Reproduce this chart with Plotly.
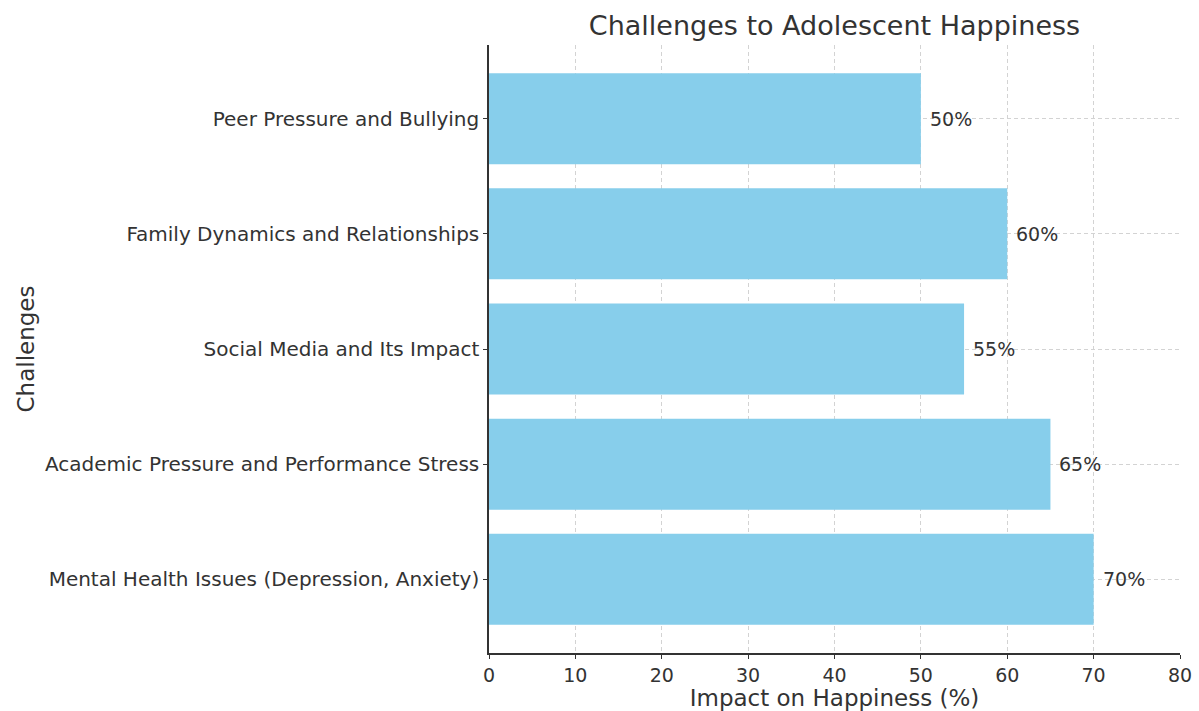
import plotly.graph_objects as go

categories = [
    "Mental Health Issues (Depression, Anxiety)",
    "Academic Pressure and Performance Stress",
    "Social Media and Its Impact",
    "Family Dynamics and Relationships",
    "Peer Pressure and Bullying",
]
values = [70, 65, 55, 60, 50]
labels = [f"{v}%" for v in values]

FONT = "DejaVu Sans"
TXT = "#333333"
fig = go.Figure()
fig.add_trace(go.Bar(
    y=categories, x=values, orientation="h",
    marker=dict(color="#87CEEB", line=dict(width=0)),
    width=0.79,
))
for c, v, t in zip(categories, values, labels):
    fig.add_annotation(x=v + 0.8, y=c, text=t, showarrow=False,
                       xanchor="left", yanchor="middle",
                       font=dict(family=FONT, size=19, color=TXT))

grid = dict(showgrid=True, gridcolor="#d3d3d3", griddash="4px,3px", gridwidth=1)
fig.update_layout(
    width=1199, height=711,
    margin=dict(l=489, r=19, t=45, b=58),
    paper_bgcolor="white", plot_bgcolor="white",
    showlegend=False,
    font=dict(family=FONT, color=TXT),
    title=dict(text="Challenges to Adolescent Happiness", x=(489 + 1180) / 2 / 1199,
               xanchor="center", y=1 - 26 / 711, yanchor="middle",
               font=dict(family=FONT, size=27, color=TXT)),
    xaxis=dict(range=[0, 80], tickmode="linear", tick0=0, dtick=10,
               showline=True, linecolor=TXT, linewidth=1.5,
               ticks="outside", ticklen=4, tickcolor=TXT,
               zeroline=False, automargin=False, **grid,
               tickfont=dict(family=FONT, size=19, color=TXT),
               title=dict(text="Impact on Happiness (%)", standoff=0,
                          font=dict(family=FONT, size=23, color=TXT))),
    yaxis=dict(range=[-0.64, 4.64], categoryorder="array", categoryarray=categories,
               showline=True, linecolor=TXT, linewidth=1.5,
               ticks="outside", ticklen=4, tickcolor=TXT,
               zeroline=False, automargin=False, **grid,
               tickfont=dict(family=FONT, size=20, color=TXT),
               title=dict(text="Challenges", standoff=4,
                          font=dict(family=FONT, size=23, color=TXT))),
)
fig.write_html("out.html")
